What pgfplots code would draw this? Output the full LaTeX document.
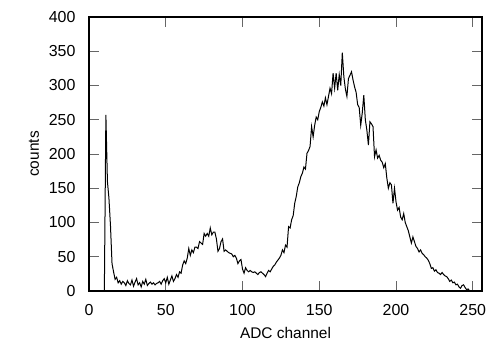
\documentclass[border=0pt]{standalone}
\usepackage{pgfplots}
\pgfplotsset{compat=1.18}
\usepackage{pgfplotstable}
\usepackage{fontspec}
\setmainfont{Liberation Sans}
\pgfplotstableread{
x y
9 0
10 0
11 257
12 160
13 135
14 95
15 40
16 28
17 17
18 20
19 12
20 15
21 10
22 14
23 12
24 8
25 15
26 11
27 9
28 16
29 7
30 13
31 18
32 9
33 12
34 6
35 14
36 10
37 17
38 8
39 11
40 13
41 10
42 12
43 9
44 11
45 12
46 14
47 10
48 15
49 18
50 12
51 20
52 10
53 16
54 22
55 14
56 18
57 24
58 20
59 28
60 26
61 38
62 44
63 40
64 48
65 62
66 52
67 60
68 56
69 64
70 64
71 62
72 72
73 70
74 68
75 84
76 80
77 84
78 80
79 92
80 82
81 86
82 86
83 76
84 58
85 62
86 72
87 76
88 58
89 60
90 58
91 56
92 55
93 54
94 50
95 52
96 48
97 40
98 44
99 46
100 32
101 26
102 34
103 30
104 28
105 30
106 28
107 27
108 28
109 26
110 24
111 27
112 28
113 26
114 24
115 21
116 26
117 30
118 28
119 32
120 36
121 38
122 42
123 45
124 48
125 52
126 60
127 56
128 67
129 64
130 94
131 92
132 104
133 110
134 128
135 138
136 152
137 158
138 167
139 172
140 181
141 178
142 201
143 205
144 211
145 240
146 225
147 242
148 254
149 250
150 262
151 268
152 276
153 270
154 282
155 272
156 284
157 296
158 288
159 318
160 296
161 318
162 293
163 316
164 300
165 348
166 313
167 295
168 284
169 310
170 315
171 320
172 308
173 298
174 290
175 272
176 268
177 242
178 260
179 286
180 250
181 235
182 213
183 247
184 244
185 240
186 196
187 206
188 194
189 198
190 191
191 188
192 180
193 186
194 165
195 150
196 158
197 155
198 128
199 150
200 130
201 118
202 122
203 108
204 104
205 113
206 100
207 94
208 88
209 79
210 70
211 79
212 72
213 65
214 62
215 57
216 60
217 55
218 53
219 50
220 48
221 45
222 40
223 33
224 34
225 29
226 31
227 27
228 26
229 24
230 27
231 24
232 22
233 21
234 18
235 14
236 16
237 12
238 13
239 9
240 10
241 6
242 4
243 8
244 9
245 5
246 2
247 3
248 0
}\spectrum
\begin{document}
\begin{tikzpicture}
\path[use as bounding box] (-89bp,-54bp) rectangle (401bp,291bp);
\begin{axis}[
  at={(0,0)}, anchor=south west,
  scale only axis,
  width=393bp, height=274bp,
  xmin=0, xmax=256, ymin=0, ymax=400,
  xtick={0,50,100,150,200,250},
  ytick={0,50,100,150,200,250,300,350,400},
  tick align=inside,
  major tick length=10bp,
  tick style={gray!80!black, line width=0.8bp},
  axis line style={black, line width=2.5bp},
  /pgf/number format/assume math mode=true,
  tick label style={font=\fontsize{16}{18}\selectfont},
  label style={font=\fontsize{15.5}{18}\selectfont},
  xlabel={ADC channel},
  ylabel={counts},
  xlabel style={at={(axis description cs:0.5,0)}, anchor=center, yshift=-42bp},
  ylabel style={at={(axis description cs:-0.14,0.5)}, anchor=center},
  xticklabel style={anchor=center, yshift=-19bp},
  yticklabel style={anchor=east, xshift=-10bp},
]
\addplot[black, line width=1bp, mark=none] table[x=x,y=y] {\spectrum};
\end{axis}
\end{tikzpicture}
\end{document}
